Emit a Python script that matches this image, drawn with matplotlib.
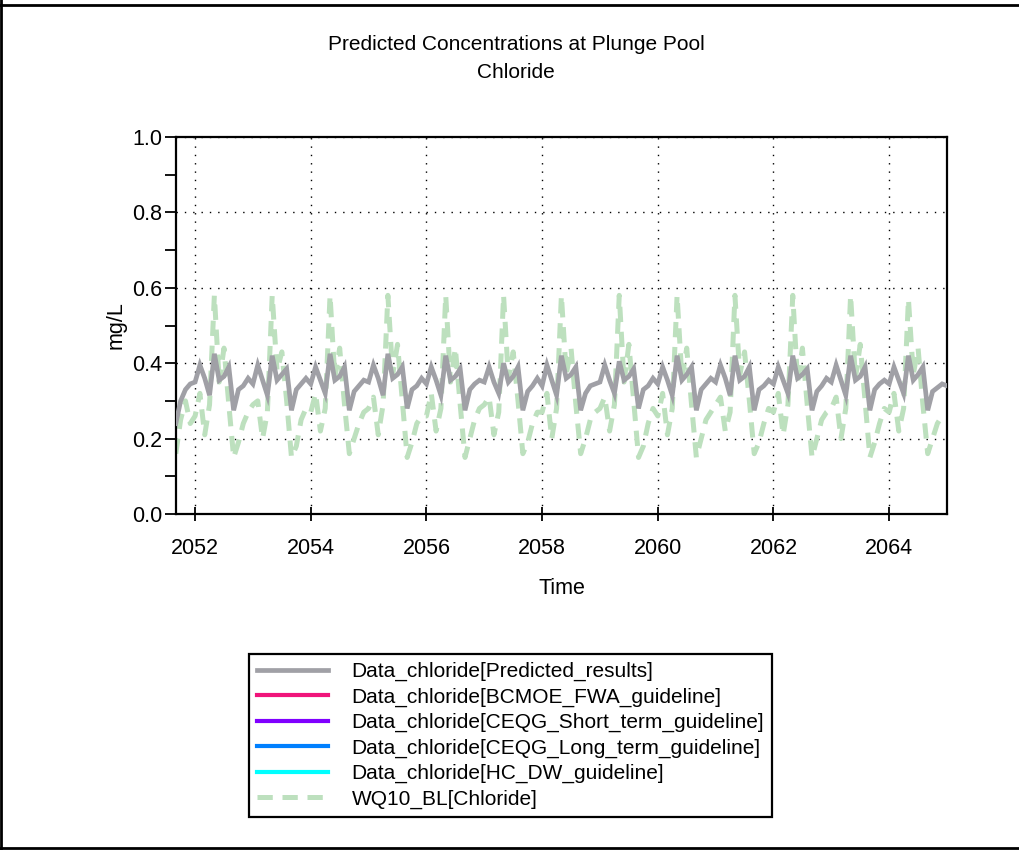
import numpy as np
import matplotlib
matplotlib.use('Agg')
import matplotlib.pyplot as plt
from matplotlib.ticker import MultipleLocator

# monthly results, Sep 2051 .. Jan 2065
start_year = 2051
start_month = 9

predicted = [
    0.24, 0.30, 0.33, 0.345,                                                   # 2051
    0.35, 0.395, 0.36, 0.315, 0.425, 0.355, 0.365, 0.39, 0.275, 0.33, 0.34, 0.36,  # 2052
    0.345, 0.395, 0.355, 0.315, 0.42, 0.355, 0.37, 0.385, 0.275, 0.33, 0.345, 0.36,  # 2053
    0.345, 0.39, 0.355, 0.32, 0.425, 0.355, 0.365, 0.39, 0.275, 0.325, 0.34, 0.355,  # 2054
    0.35, 0.395, 0.36, 0.315, 0.425, 0.36, 0.37, 0.39, 0.28, 0.33, 0.34, 0.36,  # 2055
    0.345, 0.39, 0.355, 0.315, 0.42, 0.355, 0.365, 0.385, 0.275, 0.33, 0.345, 0.355,  # 2056
    0.35, 0.39, 0.35, 0.32, 0.40, 0.35, 0.365, 0.39, 0.275, 0.325, 0.34, 0.36,  # 2057
    0.34, 0.395, 0.355, 0.315, 0.42, 0.36, 0.37, 0.39, 0.275, 0.32, 0.34, 0.345,  # 2058
    0.35, 0.395, 0.355, 0.32, 0.405, 0.355, 0.365, 0.385, 0.28, 0.33, 0.34, 0.36,  # 2059
    0.345, 0.39, 0.355, 0.315, 0.42, 0.355, 0.37, 0.39, 0.275, 0.33, 0.345, 0.36,  # 2060
    0.35, 0.395, 0.36, 0.315, 0.42, 0.355, 0.365, 0.39, 0.275, 0.33, 0.34, 0.355,  # 2061
    0.345, 0.39, 0.355, 0.32, 0.42, 0.36, 0.37, 0.385, 0.275, 0.325, 0.34, 0.36,  # 2062
    0.35, 0.395, 0.355, 0.315, 0.42, 0.355, 0.365, 0.39, 0.275, 0.33, 0.345, 0.355,  # 2063
    0.345, 0.39, 0.355, 0.32, 0.42, 0.355, 0.37, 0.39, 0.275, 0.325, 0.335, 0.345,  # 2064
    0.34,                                                                      # 2065
]

baseline = [
    0.16, 0.25, 0.30, 0.24,                                                    # 2051
    0.26, 0.32, 0.21, 0.29, 0.58, 0.35, 0.44, 0.29, 0.15, 0.19, 0.24, 0.27,  # 2052
    0.29, 0.30, 0.20, 0.27, 0.58, 0.38, 0.43, 0.30, 0.15, 0.18, 0.25, 0.28,  # 2053
    0.27, 0.32, 0.22, 0.28, 0.58, 0.36, 0.44, 0.29, 0.16, 0.20, 0.24, 0.27,  # 2054
    0.28, 0.31, 0.21, 0.29, 0.58, 0.37, 0.45, 0.30, 0.15, 0.19, 0.24, 0.26,  # 2055
    0.26, 0.32, 0.22, 0.28, 0.58, 0.35, 0.44, 0.29, 0.15, 0.20, 0.25, 0.28,  # 2056
    0.29, 0.31, 0.21, 0.27, 0.58, 0.36, 0.43, 0.30, 0.16, 0.19, 0.24, 0.27,  # 2057
    0.27, 0.32, 0.20, 0.28, 0.58, 0.37, 0.44, 0.29, 0.16, 0.20, 0.25, 0.27,  # 2058
    0.28, 0.31, 0.22, 0.29, 0.58, 0.35, 0.45, 0.30, 0.15, 0.18, 0.24, 0.28,  # 2059
    0.26, 0.32, 0.21, 0.28, 0.58, 0.36, 0.44, 0.29, 0.15, 0.20, 0.25, 0.27,  # 2060
    0.29, 0.31, 0.22, 0.27, 0.58, 0.37, 0.43, 0.30, 0.16, 0.19, 0.24, 0.28,  # 2061
    0.27, 0.32, 0.21, 0.29, 0.58, 0.35, 0.44, 0.29, 0.15, 0.20, 0.25, 0.27,  # 2062
    0.28, 0.31, 0.20, 0.28, 0.58, 0.36, 0.45, 0.30, 0.15, 0.19, 0.24, 0.28,  # 2063
    0.27, 0.32, 0.22, 0.28, 0.57, 0.37, 0.44, 0.29, 0.16, 0.20, 0.24, 0.26,  # 2064
    0.26,                                                                      # 2065
]

# guideline series sit far above this range, so nothing of them shows on the plot
guidelines = [
    ('Data_chloride[BCMOE_FWA_guideline]', '#f0147a'),
    ('Data_chloride[CEQG_Short_term_guideline]', '#8000ff'),
    ('Data_chloride[CEQG_Long_term_guideline]', '#0080ff'),
    ('Data_chloride[HC_DW_guideline]', '#00ffff'),
]

t = start_year + (start_month - 1 + np.arange(len(predicted))) / 12.0

plt.rcParams['font.family'] = ['Liberation Sans', 'DejaVu Sans']
plt.rcParams['lines.scale_dashes'] = False

fig = plt.figure(figsize=(10.2, 8.5), dpi=100, facecolor='white')
ax = fig.add_axes([176/1020, 1-514/850, (947-176)/1020, (514-137)/850])

ax.plot(t, predicted, color='#a0a0a6', lw=3.4, label='Data_chloride[Predicted_results]',
        solid_joinstyle='miter', zorder=3)
for name, c in guidelines:
    ax.plot([], [], color=c, lw=3, label=name)
ax.plot(t, baseline, color='#bde0be', lw=3.6, dashes=(11, 7), label='WQ10_BL[Chloride]', zorder=2)

ax.set_xlim(2051.67, 2065.0)
ax.set_ylim(0, 1.0)
ax.xaxis.set_major_locator(MultipleLocator(2))
ax.yaxis.set_major_locator(MultipleLocator(0.2))
ax.yaxis.set_minor_locator(MultipleLocator(0.1))
ax.yaxis.set_major_formatter(lambda v, p: f'{v:.1f}')

ax.grid(True, which='major', color='black', lw=1.0, linestyle=(0, (1, 5)))
for s in ax.spines.values():
    s.set_linewidth(1.6)

ax.tick_params(axis='x', direction='inout', length=10, width=1.3, labelsize=15.5, pad=12)
ax.tick_params(axis='y', which='both', direction='out', length=8, width=1.3, labelsize=15.5, pad=2)

ax.set_xlabel('Time', fontsize=15.5, labelpad=14)
ax.set_ylabel('mg/L', fontsize=15.5, labelpad=4)

fig.text(516/1020, 1-45/850, 'Predicted Concentrations at Plunge Pool', ha='center', va='center', fontsize=15)
fig.text(516/1020, 1-72/850, 'Chloride', ha='center', va='center', fontsize=15)

leg = fig.legend(loc='upper left', bbox_to_anchor=(249/1020, 1-654/850), fontsize=15,
                 handlelength=3.4, handletextpad=1.15, labelspacing=0.3, borderpad=0.38,
                 borderaxespad=0, fancybox=False, edgecolor='black', framealpha=1)
leg.get_frame().set_linewidth(1.6)

# outer frame
fig.add_artist(plt.Line2D([0, 1], [1-5/850, 1-5/850], color='black', lw=2, transform=fig.transFigure))
fig.add_artist(plt.Line2D([1/1020, 1/1020], [0, 1], color='black', lw=2, transform=fig.transFigure))
fig.add_artist(plt.Line2D([0, 1], [2/850, 2/850], color='black', lw=2, transform=fig.transFigure))

fig.savefig('out.png', dpi=100)
